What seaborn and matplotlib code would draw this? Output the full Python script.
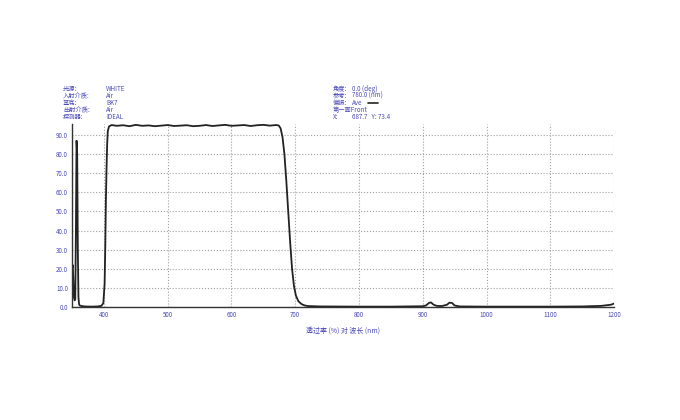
import pandas as pd
import matplotlib
matplotlib.use('Agg')
import matplotlib.pyplot as plt
import seaborn as sns

# Values
wavelength = [350, 351, 352, 353, 354, 355, 356, 357, 358, 359, 360, 361, 362, 365, 370,
              380, 390, 396, 399, 401, 402, 403, 404, 405, 406, 408, 412, 420, 430, 440,
              450, 460, 470, 480, 490, 500, 510, 520, 530, 540, 550, 560, 570, 580, 590,
              600, 610, 620, 630, 640, 650, 660, 670, 674, 677, 680, 683, 686, 689, 692,
              695, 698, 701, 705, 710, 715, 720, 740, 800, 850, 900, 905, 910, 913, 917,
              922, 930, 938, 942, 946, 950, 958, 1000, 1100, 1150, 1180, 1195, 1200]
transmittance = [20, 22, 14, 5, 3.5, 4, 40, 87, 80, 30, 5, 1.5, 0.8, 0.5, 0.3,
                 0.2, 0.3, 0.6, 2, 12, 30, 55, 72, 85, 92, 94.5, 95.2, 94.8, 95.1, 94.6,
                 95.3, 94.8, 95.0, 94.6, 94.9, 95.2, 94.7, 94.9, 95.1, 94.6, 94.8, 95.2, 94.7, 95.0, 95.3,
                 94.8, 95.0, 95.2, 94.7, 95.1, 95.3, 94.9, 95.2, 95.0, 93.5, 89, 80, 66, 50, 34,
                 20, 11, 6, 3, 1.5, 0.8, 0.5, 0.3, 0.2, 0.2, 0.4, 0.8, 2.2, 2.4, 1.2,
                 0.6, 0.5, 1.2, 2.3, 2.1, 0.8, 0.3, 0.2, 0.2, 0.3, 0.6, 1.2, 1.8]

x_ticks = [400, 500, 600, 700, 800, 900, 1000, 1100, 1200]
y_ticks = [0, 10, 20, 30, 40, 50, 60, 70, 80, 90]

info_left_keys = ['光源:', '入射介质:', '基底:', '出射介质:', '探测器:']
info_left_vals = ['WHITE', 'Air', 'BK7', 'Air', 'IDEAL']
info_right_keys = ['角度:', '参考:', '偏振:', '第一面Front', 'X:']
info_right_vals = ['0.0 (deg)', '780.0 (nm)', 'Ave', '', '687.7   Y: 73.4']

blue = '#4a4ab8'

sns.set_style('white')
plt.rcParams['font.family'] = ['Noto Sans CJK SC', 'DejaVu Sans']

df = pd.DataFrame({'wl': wavelength, 't': transmittance})

fig = plt.figure(figsize=(6.8, 4.2), dpi=100)
ax = fig.add_axes([0.106, 0.269, 0.797, 0.436])

sns.lineplot(data=df, x='wl', y='t', ax=ax, color='#222222', linewidth=1.3)

ax.set_xlim(350, 1200)
ax.set_ylim(0, 95.8)
ax.set_xticks(x_ticks)
ax.set_xticklabels([str(v) for v in x_ticks])
ax.set_yticks(y_ticks)
ax.set_yticklabels([f'{v:.1f}' for v in y_ticks])
ax.tick_params(length=0, labelsize=4.5, labelcolor=blue, pad=3)

ax.grid(True, linestyle=':', color='#a0a0a0', linewidth=0.8)
for s in ['top', 'right']:
    ax.spines[s].set_visible(False)
for s in ['left', 'bottom']:
    ax.spines[s].set_color('#333333')
    ax.spines[s].set_linewidth(1.0)

ax.set_xlabel('透过率 (%) 对 波长 (nm)', fontsize=5, color=blue, labelpad=5)
ax.set_ylabel('')

# header text blocks
for i, (k, v) in enumerate(zip(info_left_keys, info_left_vals)):
    y = 1 - (89 + i * 7) / 420
    fig.text(63 / 680, y, k, fontsize=4.5, color=blue, va='center')
    fig.text(106 / 680, y, v, fontsize=4.5, color=blue, va='center')
for i, (k, v) in enumerate(zip(info_right_keys, info_right_vals)):
    y = 1 - (89 + i * 7) / 420
    fig.text(333 / 680, y, k, fontsize=4.5, color=blue, va='center')
    if v:
        fig.text(352 / 680, y, v, fontsize=4.5, color=blue, va='center')
# line sample next to polarisation entry
fig.lines.append(plt.Line2D([368 / 680, 378 / 680], [1 - 103 / 420] * 2,
                            transform=fig.transFigure, color='#222222', linewidth=1.2))

fig.savefig('out.png', dpi=100)
